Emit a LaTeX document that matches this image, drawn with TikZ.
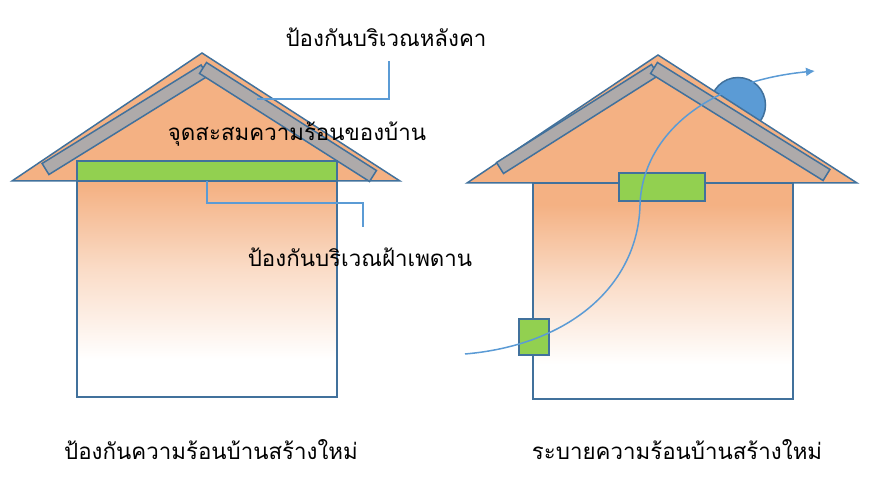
\documentclass[tikz,border=0pt]{standalone}
\usepackage{fontspec}
\newfontfamily\thaifont[Script=Thai]{Loma}
\usetikzlibrary{calc,arrows.meta}
\definecolor{edgec}{HTML}{41719C}
\definecolor{roofc}{HTML}{F4B183}
\definecolor{greenc}{HTML}{92D050}
\definecolor{grayc}{HTML}{AEAAAA}
\definecolor{linec}{HTML}{5B9BD5}
\pgfdeclareverticalshading{bodyshade}{100bp}{color(0bp)=(white); color(33bp)=(white); color(52bp)=(roofc!45); color(70bp)=(roofc); color(100bp)=(roofc)}
\tikzset{
  roof/.style={fill=roofc, draw=edgec, line width=1.5pt, line join=miter},
  panel/.style={fill=grayc, draw=edgec, line width=1.5pt},
  body/.style={shading=bodyshade, draw=edgec, line width=1.5pt},
  insul/.style={fill=greenc, draw=edgec, line width=1.5pt},
  callout/.style={draw=linec, line width=1.5pt},
  flow/.style={draw=linec, line width=1.5pt, -{Latex[length=9pt,width=9pt]}},
  dome/.style={fill=linec, draw=edgec, line width=1.5pt},
  lbl/.style={font=\thaifont\fontsize{22.3}{26}\selectfont, text=black, inner sep=0pt}
}
\newcommand\roofpanel[2]{%
  \path[panel] ($(#1)!6.5pt!90:(#2)$) -- ($(#2)!6.5pt!-90:(#1)$) -- ($(#2)!6.5pt!90:(#1)$) -- ($(#1)!6.5pt!-90:(#2)$) -- cycle;}
\begin{document}
\begin{tikzpicture}[x=1pt,y=-1pt]
\useasboundingbox (0,0) rectangle (876,494);
% ---------- left house ----------
\path[roof] (202,53) -- (400,181) -- (12,181) -- cycle;
\coordinate (la1) at (45.5,169);  \coordinate (la2) at (204.5,70.5);
\coordinate (lb1) at (203,68);    \coordinate (lb2) at (373,176);
\roofpanel{la1}{la2}
\roofpanel{lb1}{lb2}
\path[body] (77,161) rectangle (337,397);
\path[insul] (77,161) rectangle (337,181);
\node[lbl] (hot) at (297,134) {จุดสะสมความร้อนของบ้าน};
\node[lbl] (roofins) at (386,37) {ป้องกันบริเวณหลังคา};
\node[lbl] (ceilins) at (360,257) {ป้องกันบริเวณฝ้าเพดาน};
\coordinate (c1s) at (257,99);
\coordinate (c1e) at (389,61);
\draw[callout] (c1s) -| (c1e);
\coordinate (c2s) at (207,181);
\coordinate (c2m) at (363,203);
\coordinate (c2e) at (363,227);
\draw[callout] (c2s) |- (c2m) -- (c2e);
\node[lbl] (capl) at (211,450) {ป้องกันความร้อนบ้านสร้างใหม่};
% ---------- right house ----------
\path[dome] (738,105) circle (27.5);
\path[roof] (658,55) -- (857,183) -- (467,183) -- cycle;
\coordinate (ra1) at (500,168);  \coordinate (ra2) at (655,70);
\coordinate (rb1) at (654,68);   \coordinate (rb2) at (826.5,175);
\roofpanel{ra1}{ra2}
\roofpanel{rb1}{rb2}
\path[body] (533,183) rectangle (793,399);
\path[insul] (619,173) rectangle (705,201);
\path[insul] (519,319) rectangle (549,355);
\coordinate (fs) at (465,354);
\coordinate (fm) at (640,205);
\coordinate (fe) at (815,71);
\draw[flow] (fs) .. controls (570,345) and (638,285) .. (fm)
                 .. controls (642,140) and (700,82) .. (fe);
\node[lbl] (capr) at (677,450) {ระบายความร้อนบ้านสร้างใหม่};
\end{tikzpicture}
\end{document}
